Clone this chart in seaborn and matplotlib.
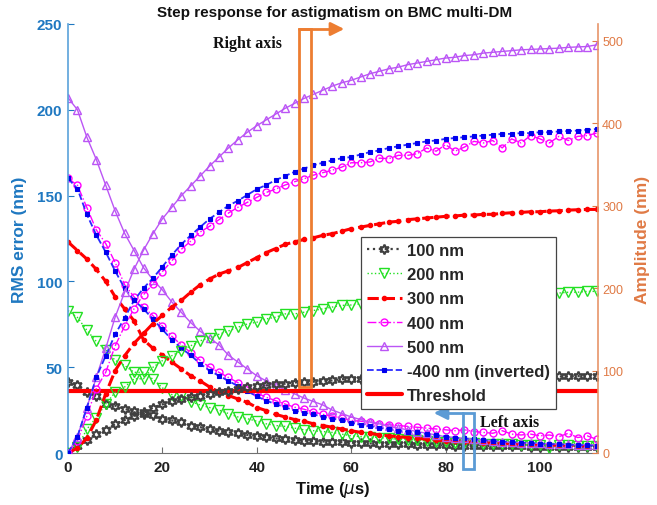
import matplotlib
matplotlib.use("Agg")
import matplotlib.pyplot as plt
import seaborn as sns
from matplotlib.patches import Rectangle

# sampling times (us)
time_us = [0, 2, 4, 6, 8, 10, 12, 14, 16, 18,
           20, 22, 24, 26, 28, 30, 32, 34, 36, 38,
           40, 42, 44, 46, 48, 50, 52, 54, 56, 58,
           60, 62, 64, 66, 68, 70, 72, 74, 76, 78,
           80, 82, 84, 86, 88, 90, 92, 94, 96, 98,
           100, 102, 104, 106, 108, 110, 112]

# RMS error (left axis, nm)
err_100 = [41.5, 39.5, 35.5, 33.0, 28.6, 27.6, 25.7, 24.3, 23.0, 22.0,
           20.0, 19.0, 18.0, 16.0, 15.0, 14.0, 13.0, 12.0, 11.5, 10.5,
           10.0, 9.2, 8.5, 8.0, 7.5, 7.2, 7.0, 6.7, 6.5, 6.3,
           6.0, 5.8, 5.6, 5.4, 5.2, 5.0, 5.0, 4.8, 4.6, 4.5,
           4.4, 4.3, 4.2, 4.1, 4.0, 4.0, 3.9, 3.8, 3.8, 3.7,
           3.6, 3.6, 3.5, 3.5, 3.4, 3.4, 3.3]
err_200 = [83, 79, 71.5, 65, 60, 54, 51, 47, 47, 43,
           38, 34, 33, 30, 28, 26.5, 25, 23, 21, 20,
           18.5, 17, 16, 15.5, 14.5, 13.5, 13, 12.5, 12, 11,
           10, 9.5, 9.3, 9, 8.5, 8, 7.8, 7.5, 7, 6.5,
           6.2, 6, 5.8, 5.6, 5.4, 5.3, 5.2, 5, 4.8, 4.7,
           4.6, 3, 4.5, 4.4, 4.3, 4.2, 4.2]
err_300 = [123, 118, 113, 107, 100, 91, 84, 77, 66, 61,
           57, 53, 49, 45, 42, 38.5, 35.5, 33.5, 31.5, 29.5,
           26.5, 24.7, 22.5, 21, 19.5, 18.5, 17, 16, 15, 14,
           13, 12, 11.5, 10.5, 10, 9.5, 9, 8.5, 8, 7.5,
           7, 6.8, 6.5, 6.2, 6, 5.8, 5.6, 5.4, 5.2, 5,
           4.8, 4.6, 4.5, 4.4, 4.3, 4.2, 4]
err_400 = [160, 156, 143, 130, 122, 111, 98, 91, 85, 80,
           74, 68, 63, 58.5, 54, 50, 47, 44, 41, 38.5,
           35, 32.5, 30.5, 28.5, 26.7, 25.5, 24, 22.5, 21.5, 20.5,
           19, 18.5, 18, 17, 16.5, 16, 15.5, 15, 14.5, 14,
           13.5, 13, 13.5, 12.5, 12, 11.5, 13, 11, 10.5, 11,
           10, 10.5, 9.5, 11.5, 9, 10, 8]
err_500 = [207, 200, 184, 171, 156, 141, 128, 118, 108, 101,
           95, 88, 82, 76, 71, 67, 63, 57, 53, 49,
           45, 42, 39, 37, 34.5, 32, 30, 28, 25, 23,
           21, 19.5, 18, 17, 15.5, 14.5, 13.5, 12.5, 11.5, 10.5,
           9.5, 9, 8.5, 8, 7.5, 7, 6.5, 6.2, 6, 5.8,
           5.6, 5.4, 5.2, 5, 4.9, 4.8, 4.7]
err_m400 = [160, 154, 139, 127, 117, 106, 96, 89, 84, 78,
            72, 66, 61, 57, 52, 48, 45, 42, 39, 36,
            33, 30.5, 28.5, 26.7, 24.7, 23.5, 22.5, 21, 20, 19,
            17.5, 16.5, 15.5, 14.5, 14, 13, 12.5, 12, 11, 10.5,
            9.5, 9, 8.5, 8, 7.5, 7, 6.7, 6.4, 6.1, 5.8,
            5.5, 5.2, 5, 4.8, 4.6, 4.4, 4.2]

# amplitude (right axis, nm)
amp_100 = [0, 9, 16, 23, 28, 35, 40, 45, 49.5, 55,
           59, 63, 65.5, 67.5, 69.5, 71.5, 73.5, 75.5, 77.5, 79.5,
           81.5, 82, 83.5, 84, 85.5, 86, 86.5, 87.5, 88, 89.5,
           89.8, 90, 90.2, 90.4, 90.6, 90.8, 91, 91, 91.2, 91.3,
           91.4, 91.5, 91.6, 91.7, 91.8, 91.9, 92, 92, 92.2, 92.4,
           92.5, 92.6, 92.8, 93, 93.2, 93.5, 93.8]
amp_200 = [0, 7, 29, 43, 59.5, 73.6, 80, 90, 90, 104,
           112, 118, 124, 130, 136, 140, 144, 148, 152.5, 156.5,
           158.6, 162.6, 164.7, 168.7, 168.7, 170.7, 172.8, 174.8, 177, 179,
           179.5, 181, 182, 183, 184, 185, 186, 187, 187.5, 188,
           189, 189.5, 190, 190.5, 191, 191.5, 192, 192.5, 193, 193,
           193, 193.5, 194, 195, 195, 196, 196]
amp_300 = [0, 6, 18, 40, 72, 100, 118, 133, 145, 157,
           167, 177, 185, 195, 204, 211, 217, 221, 225, 231,
           237, 243, 248, 253, 256, 259, 261, 264, 266, 269,
           272, 274, 276, 278, 280, 281, 283, 284, 285, 286,
           287, 287.5, 288.5, 288.6, 289.4, 289.5, 290.6, 291.4, 291.8, 292.6,
           292.6, 293.4, 293.8, 294.6, 295, 295.4, 295.4]
amp_400 = [0, 15, 45, 78, 98, 130, 154, 175, 192, 205,
           220, 233, 247, 257, 268, 275, 283, 291, 298, 304,
           310, 316, 320, 325, 329, 332.5, 337, 340, 343, 346.7,
           352, 352, 353, 357.6, 357, 361, 361, 363, 370, 366,
           374, 366, 371, 378, 376, 379, 370, 381, 376, 385,
           381, 376, 384, 379, 384, 385, 388]
amp_500 = [0, 20, 55, 92, 127, 165, 195, 223, 246, 266,
           284, 298, 312, 324, 336, 348, 359, 370, 380, 389,
           397, 404, 411, 418, 424, 430, 435, 440, 445, 449,
           452, 456, 460, 463, 466, 468, 471, 473, 475, 477,
           479, 480, 482, 483, 485, 486, 487, 488, 489, 489.5,
           490, 490.5, 491, 492, 492.5, 493, 495]
amp_m400 = [0, 20, 55, 92, 118, 144, 164, 185, 200, 212,
            226, 240, 253, 264, 274, 284, 292, 300, 306, 313,
            320, 325, 331, 336, 341, 345, 349, 352, 355, 357.5,
            359, 362, 365, 367, 370, 372, 374, 376, 378, 379,
            381, 382, 383, 384, 385, 386, 387, 387, 388, 388,
            389, 389, 390, 390.5, 391, 392, 393]

series_labels = ["100 nm", "200 nm", "300 nm", "400 nm", "500 nm", "-400 nm (inverted)"]
threshold_nm = 36

LEFT_C = "#1f78c1"
RIGHT_C = "#e07a45"
W, H = 657, 506


def fig_xy(x, y):
    return x / W, 1 - y / H


styles = {
    "100 nm": dict(color="#404040", linestyle=":", linewidth=1.6, marker=(6, 1, 0),
                   markersize=7, markerfacecolor="none", markeredgecolor="#404040",
                   markeredgewidth=1.5),
    "200 nm": dict(color="#22e022", linestyle=":", linewidth=1.0, marker="v",
                   markersize=7, markerfacecolor="none", markeredgecolor="#22e022",
                   markeredgewidth=1.0),
    "300 nm": dict(color="#ff0000", linestyle="--", linewidth=2.2, marker=".",
                   markersize=6, markerfacecolor="#ff0000", markeredgecolor="#ff0000",
                   markeredgewidth=1.0),
    "400 nm": dict(color="#ff00ff", linestyle="-.", linewidth=1.0, marker="o",
                   markersize=5, markerfacecolor="none", markeredgecolor="#ff00ff",
                   markeredgewidth=1.0),
    "500 nm": dict(color="#bb55f5", linestyle="-", linewidth=1.0, marker="^",
                   markersize=5.5, markerfacecolor="none", markeredgecolor="#bb55f5",
                   markeredgewidth=1.0),
    "-400 nm (inverted)": dict(color="#2a2aff", linestyle="--", linewidth=1.3, marker="s",
                               markersize=3.2, markerfacecolor="#0000ee",
                               markeredgecolor="#0000ee", markeredgewidth=0.8),
}

err_data = [err_100, err_200, err_300, err_400, err_500, err_m400]
amp_data = [amp_100, amp_200, amp_300, amp_400, amp_500, amp_m400]

sns.set_style("white")
plt.rcParams["font.family"] = ["Liberation Sans", "DejaVu Sans"]

fig = plt.figure(figsize=(W / 100, H / 100), dpi=100)
ax = fig.add_axes([68 / W, 1 - 454 / H, 530 / W, 429 / H])
ax2 = ax.twinx()

for name, err, amp in zip(series_labels, err_data, amp_data):
    sns.lineplot(x=time_us, y=err, ax=ax, label=name, legend=False, **styles[name])
    sns.lineplot(x=time_us, y=amp, ax=ax2, legend=False, **styles[name])

ax.axhline(threshold_nm, color="#ff0000", linewidth=3, label="Threshold")

ax.set_xlim(0, 112.3)
ax.set_ylim(0, 250)
ax2.set_ylim(0, 520.3)
ax.set_xticks([0, 20, 40, 60, 80, 100])
ax.set_yticks([0, 50, 100, 150, 200, 250])
ax2.set_yticks([0, 100, 200, 300, 400, 500])

for a in (ax, ax2):
    a.spines["top"].set_visible(False)
    a.grid(False)
ax.spines["right"].set_visible(False)
ax2.spines["left"].set_visible(False)
ax2.spines["bottom"].set_visible(False)
ax.spines["left"].set_color("#5aa2da")
ax.spines["left"].set_linewidth(1.2)
ax.spines["bottom"].set_color("#707070")
ax2.spines["right"].set_color("#e8956a")
ax2.spines["right"].set_linewidth(1.2)

ax.tick_params(axis="x", bottom=True, direction="in", length=4, color="#707070",
               labelsize=11, pad=5, labelcolor="#222222")
ax.tick_params(axis="y", left=True, direction="in", length=4, color=LEFT_C,
               labelsize=11, pad=4, labelcolor=LEFT_C)
ax2.tick_params(axis="y", right=True, direction="in", length=4, color=RIGHT_C,
                labelsize=9, pad=3, labelcolor=RIGHT_C)
for lbl in ax.get_xticklabels() + ax.get_yticklabels():
    lbl.set_fontweight("bold")

ax.set_xlabel("Time ($\\mu$s)", fontsize=12, fontweight="bold", color="#111111")
ax.xaxis.set_label_coords(0.5, -0.06)
ax.set_ylabel("RMS error (nm)", fontsize=12.5, fontweight="bold", color=LEFT_C)
ax.yaxis.set_label_coords(-0.078, 0.5)
ax2.set_ylabel("Amplitude (nm)", fontsize=12.5, fontweight="bold", color=RIGHT_C)
ax2.yaxis.set_label_coords(1.07, 0.5)

tx, ty = fig_xy(335, 13)
fig.text(tx, ty, "Step response for astigmatism on BMC multi-DM", ha="center",
         va="center", fontsize=11, fontweight="bold", color="#111111")

handles = [ln for ln in ax.get_lines() if not ln.get_label().startswith("_")]
leg = ax2.legend(handles=handles, labels=[h.get_label() for h in handles],
                 loc="upper left", bbox_to_anchor=(0.553, 0.503), frameon=True,
                 fancybox=False, framealpha=1, edgecolor="#444444", fontsize=12,
                 handlelength=2.1, handletextpad=0.3, labelspacing=0.55,
                 borderpad=0.35, borderaxespad=0)
leg.get_frame().set_linewidth(0.9)
for t in leg.get_texts():
    t.set_fontweight("bold")

# "Right axis" callout
orange = "#ed7d31"
x0, y0 = fig_xy(299, 388)
x1, y1 = fig_xy(311, 30)
fig.add_artist(Rectangle((x0, y0), x1 - x0, y1 - y0, transform=fig.transFigure,
                         fill=False, edgecolor=orange, linewidth=2))
fig.add_artist(plt.Line2D([x0, fig_xy(335, 30)[0]], [y1, y1], transform=fig.transFigure,
                          color=orange, linewidth=2))
ax.annotate("", xy=fig_xy(347, 30), xytext=fig_xy(330, 30), xycoords="figure fraction",
            arrowprops=dict(arrowstyle="-|>,head_length=0.8,head_width=0.4",
                            color=orange, lw=2), annotation_clip=False)
fig.text(*fig_xy(247, 44), "Right axis", family=["Liberation Serif", "DejaVu Serif"],
         fontsize=11.5, fontweight="bold", ha="center", va="center", color="#111111")

# "Left axis" callout
blue = "#5b9bd5"
x0, y0 = fig_xy(463, 470)
x1, y1 = fig_xy(474, 414)
fig.add_artist(Rectangle((x0, y0), x1 - x0, y1 - y0, transform=fig.transFigure,
                         fill=False, edgecolor=blue, linewidth=2))
fig.add_artist(plt.Line2D([fig_xy(445, 414)[0], x0], [y1, y1], transform=fig.transFigure,
                          color=blue, linewidth=2))
ax.annotate("", xy=fig_xy(431, 414), xytext=fig_xy(448, 414), xycoords="figure fraction",
            arrowprops=dict(arrowstyle="-|>,head_length=0.8,head_width=0.4",
                            color=blue, lw=2), annotation_clip=False)
fig.text(*fig_xy(510, 423), "Left axis", family=["Liberation Serif", "DejaVu Serif"],
         fontsize=11.5, fontweight="bold", ha="center", va="center", color="#111111")

fig.savefig("out.png", dpi=100)
